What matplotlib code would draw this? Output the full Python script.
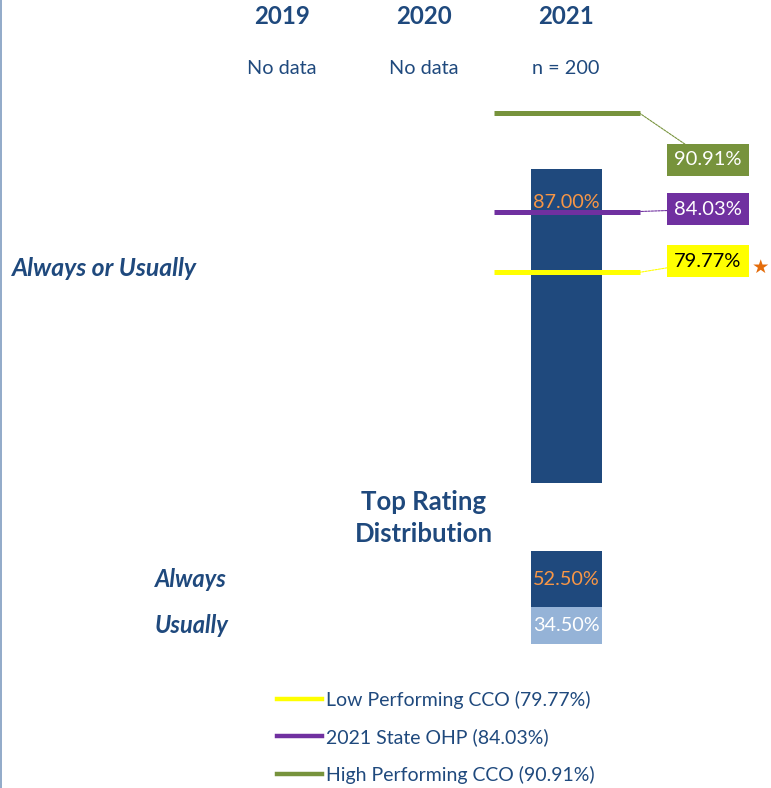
import matplotlib
matplotlib.use('Agg')
import matplotlib.pyplot as plt
from matplotlib.lines import Line2D
from matplotlib import transforms

plt.rcParams['font.family'] = ['Lato', 'DejaVu Sans']

years = ['2019', '2020', '2021']
n_labels = ['No data', 'No data', 'n = 200']
bar_value = 87.00
always_value = 52.50
usually_value = 34.50
ref_names = ['Low Performing CCO', '2021 State OHP', 'High Performing CCO']
ref_values = [79.77, 84.03, 90.91]
ref_colors = ['#FFFF00', '#7030A0', '#77933C']
ref_text_colors = ['black', 'white', 'white']
ref_label_y = [80.55, 84.2, 87.65]

navy = '#1F497D'
light = '#95B3D7'
orange = '#F79646'

W, H = 771, 788
fig = plt.figure(figsize=(W / 100, H / 100), dpi=100)

# main bar axes: y 65..95 mapped to pixel rows 483..55
px_unit = 142.0
x0_px = 282.0
xlim = (-x0_px / px_unit, (W - x0_px) / px_unit)
ax = fig.add_axes([0, (H - 483) / H, 1, 428 / H])
ax.set_xlim(*xlim)
ax.set_ylim(65, 95)
ax.axis('off')

ax.bar(2, bar_value - 65, bottom=65, width=0.5, color=navy, zorder=1)
ax.annotate('%.2f%%' % bar_value, (2, bar_value), xytext=(0, -24),
            textcoords='offset points', ha='center', va='center',
            color=orange, fontsize=14.3, zorder=5)

for name, v, c, tc, ly in zip(ref_names, ref_values, ref_colors,
                              ref_text_colors, ref_label_y):
    ax.plot([1.49, 2.52], [v, v], color=c, lw=3.6, solid_capstyle='butt',
            zorder=3)
    ax.annotate('%.2f%%' % v, xy=(2.52, v), xytext=(3.0, ly),
                ha='center', va='center', color=tc, fontsize=14.5,
                bbox=dict(boxstyle='square,pad=0.36', fc=c, ec='none'),
                arrowprops=dict(arrowstyle='-', color=c, lw=0.8,
                                linestyle=(0, (2, 1)), shrinkA=0, shrinkB=0))

ax.text(3.37, ref_values[0] + 0.35, '\u2605', color='#E46C0A', fontsize=14,
        ha='center', va='center', family=['DejaVu Sans'])

# headings
tr = transforms.blended_transform_factory(ax.transData, fig.transFigure)
for i, (y, n) in enumerate(zip(years, n_labels)):
    ax.text(i, 1 - 17 / H, y, transform=tr, ha='center', va='center',
            fontsize=17.3, fontweight='bold', color=navy)
    ax.text(i, 1 - 69 / H, n, transform=tr, ha='center', va='center',
            fontsize=14.3, color=navy)

fig.text(12 / W, 1 - 268 / H, 'Always or Usually', ha='left', va='center',
         fontsize=17.8, fontweight='bold', style='italic', color=navy)
ax.text(1, 1 - 518 / H, 'Top Rating\nDistribution', transform=tr,
        ha='center', va='center', fontsize=18.5, fontweight='bold',
        color=navy, linespacing=1.38)

# stacked distribution bar
ax2 = fig.add_axes([0, (H - 644) / H, 1, 93 / H])
ax2.set_xlim(*xlim)
ax2.set_ylim(0, always_value + usually_value)
ax2.axis('off')
ax2.bar(2, usually_value, width=0.5, color=light)
ax2.bar(2, always_value, bottom=usually_value, width=0.5, color=navy)
ax2.text(2, usually_value + always_value / 2, '%.2f%%' % always_value,
         ha='center', va='center', color=orange, fontsize=14.3)
ax2.text(2, usually_value / 2, '%.2f%%' % usually_value,
         ha='center', va='center', color='white', fontsize=14.3)
ax2.text(-0.894, usually_value + always_value / 2, 'Always', ha='left',
         va='center', fontsize=17, fontweight='bold', style='italic',
         color=navy)
ax2.text(-0.894, usually_value / 2, 'Usually', ha='left', va='center',
         fontsize=17, fontweight='bold', style='italic', color=navy)

handles = [Line2D([], [], color=c, lw=3.2) for c in ref_colors]
labels = ['%s (%.2f%%)' % (n, v) for n, v in zip(ref_names, ref_values)]
leg = fig.legend(handles, labels, loc='upper left',
                 bbox_to_anchor=(259 / W, 1 - 673 / H), frameon=False,
                 fontsize=14.0, handlelength=2.35, handletextpad=0.2,
                 labelspacing=1.02)
for t in leg.get_texts():
    t.set_color(navy)

fig.add_artist(Line2D([0.5 / W, 0.5 / W], [0, 1], color='#7F9CC0', lw=1.2,
                      transform=fig.transFigure))

fig.savefig('out.png', dpi=100)
